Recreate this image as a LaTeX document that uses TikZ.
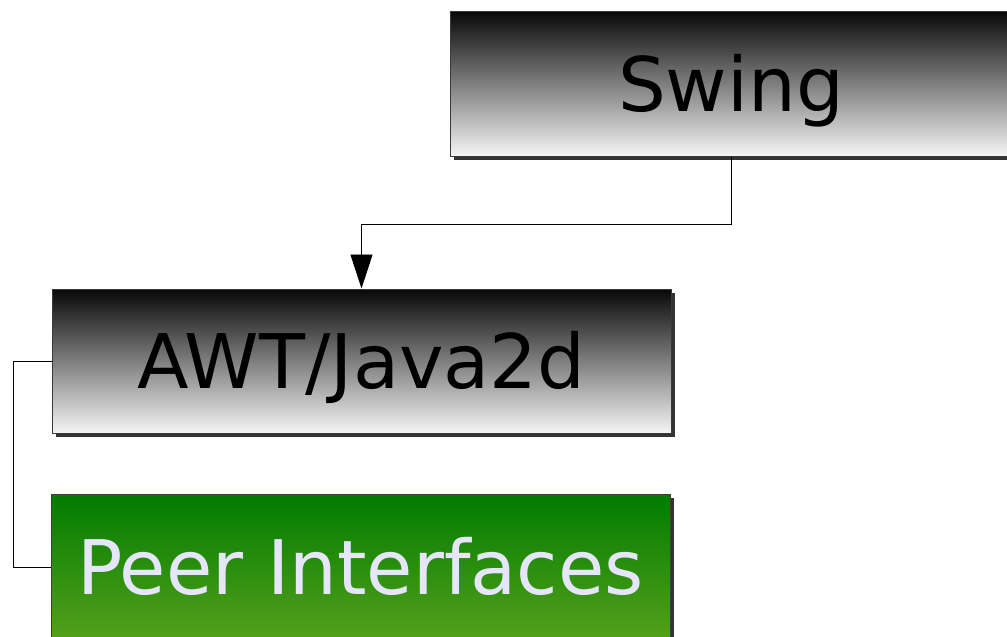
\documentclass[tikz,border=0pt]{standalone}
\usepackage{fontspec}
\setmainfont{DejaVu Sans}
\usetikzlibrary{arrows.meta,shadows}
\definecolor{boxline}{HTML}{3A3A3A}
\definecolor{shadowgray}{HTML}{333333}
\definecolor{greentop}{HTML}{007C00}
\definecolor{greenbot}{HTML}{55A01C}
\definecolor{peertext}{HTML}{E6E6FA}
\tikzset{
  layer/.style={
    draw=boxline, line width=1pt, inner sep=0pt,
    text height=55pt, text depth=0pt,
    font=\fontsize{75.3}{90}\selectfont,
    drop shadow={shadow xshift=4pt, shadow yshift=-4pt, fill=shadowgray, opacity=1}
  },
  graylayer/.style={layer, top color=black!97, bottom color=black!4, text=black},
  greenlayer/.style={layer, draw=black!75, top color=greentop, bottom color=greenbot, text=peertext},
  link/.style={draw=black, line width=0.9pt},
}
\begin{document}
\begin{tikzpicture}[x=1pt, y=-1pt]
  \useasboundingbox (0,0) rectangle (1007,637);
  % three stacked layers of the Java GUI toolkit
  \node[graylayer, minimum width=562pt, minimum height=145pt] (swing) at (731,83.5) {Swing};
  \node[graylayer, minimum width=619pt, minimum height=144pt] (awt) at (361.5,361) {AWT/Java2d};
  \node[greenlayer, minimum width=619pt, minimum height=146pt] (peer) at (360.5,567) {Peer Interfaces};
  % Swing builds on AWT/Java2d
  \coordinate (bendA) at (swing.south |- 0,224);
  \coordinate (bendB) at (awt.north |- 0,224);
  \draw[link, -{Triangle[length=34pt,width=22pt]}] (swing.south) -- (bendA) -- (bendB) -- (awt.north);
  % AWT/Java2d relies on the peer interfaces
  \coordinate (sideA) at (13,361);
  \coordinate (sideB) at (13,567);
  \draw[link] (awt.west) -- (sideA) -- (sideB) -- (peer.west);
\end{tikzpicture}
\end{document}
